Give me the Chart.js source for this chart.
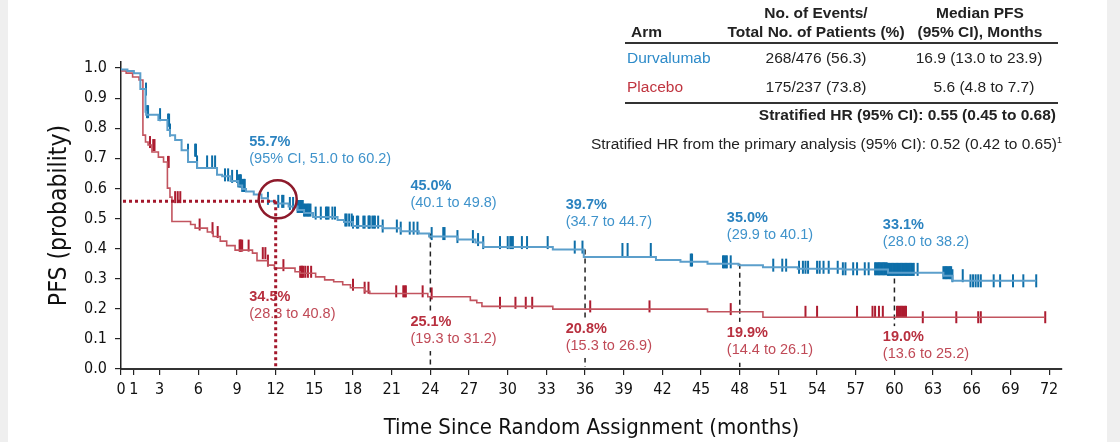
<!DOCTYPE html>
<html>
<head>
<meta charset="utf-8">
<script src="https://cdn.jsdelivr.net/npm/chart.js@4.4.1/dist/chart.umd.min.js"></script>
<style>
  body { margin: 0; width: 1120px; height: 442px; overflow: hidden; position: relative; background: #efefef; font-family: 'Liberation Sans', Arial, sans-serif; }
  #paper { position: absolute; left: 8px; top: 0; width: 1099px; height: 442px; background: #fff; }
  #c { position: absolute; left: 0; top: 0; }
  .t { position: absolute; font-size: 15.5px; line-height: 18px; color: #222; white-space: nowrap; }
  .b { font-weight: bold; }
  .mid { transform: translateX(-50%); }
  .rt { transform: translateX(-100%); }
  .rule { position: absolute; left: 625px; width: 433px; height: 2px; background: #333; }
  sup { font-size: 9px; }
</style>
</head>
<body>
<div id="paper"></div>
<canvas id="c" width="1120" height="442"></canvas>

<div class="t b" style="left:631px;top:23px">Arm</div>
<div class="t b mid" style="left:816px;top:4px">No. of Events/</div>
<div class="t b mid" style="left:816px;top:23px">Total No. of Patients (%)</div>
<div class="t b mid" style="left:980px;top:4px">Median PFS</div>
<div class="t b mid" style="left:980px;top:23px">(95% CI), Months</div>
<div class="rule" style="top:42px"></div>
<div class="t" style="left:627px;top:49px;color:#2e8bc9">Durvalumab</div>
<div class="t mid" style="left:816px;top:49px">268/476 (56.3)</div>
<div class="t mid" style="left:979px;top:49px">16.9 (13.0 to 23.9)</div>
<div class="t" style="left:627px;top:78px;color:#c0343f">Placebo</div>
<div class="t mid" style="left:816px;top:78px">175/237 (73.8)</div>
<div class="t mid" style="left:984px;top:78px">5.6 (4.8 to 7.7)</div>
<div class="rule" style="top:102px"></div>
<div class="t b rt" style="left:1056px;top:106px">Stratified HR (95% CI): 0.55 (0.45 to 0.68)</div>
<div class="t rt" style="left:1062px;top:131px">Stratified HR from the primary analysis (95% CI): 0.52 (0.42 to 0.65)<sup>1</sup></div>

<script>
// tick positions
const xTicks = [0, 1, 3, 6, 9, 12, 15, 18, 21, 24, 27, 30, 33, 36, 39, 42, 45, 48, 51, 54, 57, 60, 63, 66, 69, 72];
const yTicks = [0, 0.1, 0.2, 0.3, 0.4, 0.5, 0.6, 0.7, 0.8, 0.9, 1.0];

// Durvalumab KM steps (months, survival after the step)
const durvaTimes = [0, 0.5, 1.0, 1.5, 1.9, 1.95, 2.9, 3.6, 3.8, 4.2, 4.7, 5.2, 5.9, 7.45, 7.85, 8.5, 9.1, 9.4, 9.7, 10.3, 10.9, 11.4, 11.9, 13.0, 13.7, 14.2, 14.9, 16.8, 17.3, 18.0, 20.3, 21.7, 23.1, 23.9, 26.1, 27.5, 28.1, 33.5, 35.9, 41.5, 43.4, 45.5, 47.9, 49.8, 52.5, 56.0, 59.5, 63.8, 64.5, 65.7, 71.0];
const durvaSurv  = [1.0, 0.995, 0.99, 0.983, 0.93, 0.855, 0.845, 0.827, 0.794, 0.777, 0.761, 0.727, 0.688, 0.668, 0.645, 0.64, 0.625, 0.61, 0.598, 0.59, 0.58, 0.567, 0.557, 0.55, 0.54, 0.528, 0.518, 0.505, 0.495, 0.488, 0.475, 0.468, 0.458, 0.45, 0.44, 0.43, 0.42, 0.405, 0.397, 0.372, 0.362, 0.356, 0.35, 0.345, 0.338, 0.333, 0.331, 0.32, 0.31, 0.293, 0.293];
const durvaCensor = [1.94, 2.02, 2.1, 3.03, 3.65, 3.73, 3.8, 5.2, 5.75, 5.82, 5.9, 6.68, 7.07, 7.3, 8.07, 8.31, 8.62, 9.0, 9.1, 9.2, 9.25, 9.3, 9.4, 9.5, 9.55, 9.6, 11.4, 12.2, 12.5, 12.6, 13.1, 13.35, 13.7, 13.8, 13.9, 14.0, 14.05, 14.1, 14.2, 14.3, 14.4, 14.5, 14.6, 14.7, 15.1, 15.5, 15.9, 16.0, 16.1, 16.4, 16.6, 17.4, 17.5, 17.7, 17.9, 18.0, 18.3, 18.4, 18.8, 18.9, 19.2, 19.25, 19.3, 19.5, 19.6, 19.7, 19.95, 20.3, 21.4, 21.7, 22.4, 22.7, 23.0, 24.1, 25.0, 25.1, 26.1, 27.3, 27.7, 28.1, 29.4, 30.0, 30.2, 30.3, 30.4, 31.1, 31.5, 33.1, 35.2, 35.8, 38.9, 39.3, 41.1, 44.2, 44.3, 46.7, 46.8, 46.9, 47.0, 47.3, 50.6, 51.3, 51.6, 52.6, 52.9, 53.1, 53.3, 54.0, 54.2, 54.5, 54.9, 55.6, 56.0, 56.2, 56.8, 57.1, 57.7, 58.0, 58.5, 58.6, 58.7, 58.8, 58.9, 59.0, 59.1, 59.2, 59.3, 59.4, 59.5, 59.6, 59.7, 59.8, 59.9, 60.0, 60.1, 60.2, 60.3, 60.4, 60.5, 60.6, 60.7, 60.8, 60.9, 61.0, 61.1, 61.2, 61.3, 61.4, 61.5, 61.8, 63.8, 63.9, 64.0, 64.1, 64.2, 64.3, 64.4, 64.5, 65.3, 65.9, 66.1, 66.3, 66.5, 66.7, 67.7, 68.2, 69.2, 70.0, 71.0];

// Placebo KM steps
const placeboTimes = [0, 0.4, 0.9, 1.4, 1.7, 1.9, 2.1, 2.4, 2.9, 3.3, 3.6, 3.8, 3.95, 5.4, 5.75, 6.7, 7.15, 7.7, 8.2, 8.85, 10.2, 10.55, 11.4, 11.9, 13.5, 13.9, 15.1, 15.8, 16.5, 17.2, 17.8, 18.9, 19.3, 23.8, 27.1, 27.6, 28.0, 33.5, 45.5, 49.8, 61.0, 71.7];
const placeboSurv  = [1.0, 0.99, 0.983, 0.97, 0.96, 0.777, 0.754, 0.744, 0.721, 0.704, 0.688, 0.601, 0.571, 0.49, 0.48, 0.468, 0.455, 0.44, 0.425, 0.41, 0.395, 0.385, 0.36, 0.345, 0.335, 0.323, 0.318, 0.306, 0.296, 0.29, 0.28, 0.27, 0.258, 0.251, 0.24, 0.228, 0.22, 0.208, 0.199, 0.19, 0.172, 0.172];
const placeboCensor = [2.25, 2.5, 2.6, 3.65, 3.7, 4.2, 4.4, 4.6, 6.1, 7.1, 7.5, 9.2, 9.25, 9.3, 9.4, 9.9, 11.0, 11.2, 11.4, 12.6, 13.9, 14.0, 14.05, 14.15, 14.3, 14.5, 14.75, 18.0, 18.9, 19.2, 21.35, 21.9, 22.0, 22.1, 23.4, 24.1, 29.4, 30.6, 31.4, 31.9, 36.4, 41.0, 47.3, 53.1, 54.0, 57.1, 58.3, 58.5, 58.8, 59.1, 60.2, 60.3, 60.4, 60.5, 60.6, 60.7, 60.8, 60.9, 62.2, 64.8, 66.5, 66.7, 71.7];

// landmark estimates
const landmarks = [12, 24, 36, 48, 60];
const durvaPct = ['55.7%', '45.0%', '39.7%', '35.0%', '33.1%'];
const durvaCI = ['(95% CI, 51.0 to 60.2)', '(40.1 to 49.8)', '(34.7 to 44.7)', '(29.9 to 40.1)', '(28.0 to 38.2)'];
const placeboPct = ['34.5%', '25.1%', '20.8%', '19.9%', '19.0%'];
const placeboCI = ['(28.3 to 40.8)', '(19.3 to 31.2)', '(15.3 to 26.9)', '(14.4 to 26.1)', '(13.6 to 25.2)'];

// where the labels sit (x in months, y in probability)
const durvaLabelPos = [[9.95, 0.754], [22.45, 0.608], [34.5, 0.545], [47.0, 0.502], [59.1, 0.478]];
const placeboLabelPos = [[9.95, 0.239], [22.45, 0.156], [34.5, 0.133], [47.0, 0.12], [59.1, 0.106]];

const BLUE_LINE = '#5c9fcb', BLUE_MARK = '#0d6ea8', BLUE_TXT = '#2b83c0';
const RED_LINE = '#c2545f', RED_MARK = '#ad1c30', RED_TXT = '#b8303f';
const DARK_RED = '#8e1a2b';
const NARROW = "'Liberation Sans Narrow', 'DejaVu Sans Condensed', sans-serif";
const SANS = "'Liberation Sans', Arial, sans-serif";

const survAt = (times, surv, t) => {
  let s = surv[0];
  for (let i = 0; i < times.length; i++) {
    if (times[i] <= t) s = surv[i]; else break;
  }
  return s;
};

const stepPoints = (times, surv) => times.map((t, i) => ({ x: t, y: surv[i] }));
const censorPoints = (cens, times, surv) => cens.map(t => ({ x: t, y: survAt(times, surv, t) }));

const annotations = {
  id: 'annotations',
  beforeDatasetsDraw(chart) {
    const { ctx, scales: { x, y } } = chart;
    ctx.save();
    ctx.strokeStyle = '#222';
    ctx.lineWidth = 1.5;
    ctx.setLineDash([5, 4]);
    landmarks.slice(1).forEach(m => {
      const px = x.getPixelForValue(m);
      ctx.beginPath();
      ctx.moveTo(px, y.getPixelForValue(survAt(durvaTimes, durvaSurv, m)));
      ctx.lineTo(px, y.getPixelForValue(0) - 2);
      ctx.stroke();
    });
    ctx.restore();
  },
  afterDatasetsDraw(chart) {
    const { ctx, scales: { x, y } } = chart;
    ctx.save();
    ctx.textBaseline = 'middle';
    ctx.textAlign = 'left';
    const drawLabel = (pos, pct, ci, c1, c2, bg) => {
      const px = x.getPixelForValue(pos[0]);
      const py = y.getPixelForValue(pos[1]);
      ctx.font = `bold 14.5px ${SANS}`;
      const w1 = ctx.measureText(pct).width;
      ctx.font = `14.5px ${SANS}`;
      const w2 = ctx.measureText(ci).width;
      if (bg) {
        ctx.fillStyle = '#fff';
        ctx.fillRect(px - 2, py - 11, Math.max(w1, w2) + 4, 40);
      }
      ctx.font = `bold 14.5px ${SANS}`;
      ctx.fillStyle = c1;
      ctx.fillText(pct, px, py);
      ctx.font = `14.5px ${SANS}`;
      ctx.fillStyle = c2;
      ctx.fillText(ci, px, py + 17);
    };
    landmarks.forEach((m, i) => {
      drawLabel(durvaLabelPos[i], durvaPct[i], durvaCI[i], BLUE_TXT, '#3f93cb', false);
      drawLabel(placeboLabelPos[i], placeboPct[i], placeboCI[i], RED_TXT, '#c04a57', true);
    });

    // 12-month reference
    const m12 = x.getPixelForValue(12);
    const s12 = y.getPixelForValue(0.557);
    ctx.strokeStyle = '#a3172b';
    ctx.lineWidth = 3;
    ctx.setLineDash([3, 3]);
    ctx.beginPath();
    ctx.moveTo(x.getPixelForValue(0) + 2, s12);
    ctx.lineTo(m12, s12);
    ctx.moveTo(m12, s12);
    ctx.lineTo(m12, y.getPixelForValue(0));
    ctx.stroke();
    ctx.setLineDash([]);
    ctx.strokeStyle = DARK_RED;
    ctx.lineWidth = 2.5;
    ctx.beginPath();
    ctx.arc(m12 + 2, s12 - 2, 19, 0, Math.PI * 2);
    ctx.stroke();
    ctx.restore();
  }
};

new Chart(document.getElementById('c'), {
  type: 'line',
  data: {
    datasets: [
      {
        label: 'Durvalumab',
        data: stepPoints(durvaTimes, durvaSurv),
        stepped: 'after',
        borderColor: BLUE_LINE,
        borderWidth: 2,
        pointRadius: 0,
        fill: false
      },
      {
        label: 'Placebo',
        data: stepPoints(placeboTimes, placeboSurv),
        stepped: 'after',
        borderColor: RED_LINE,
        borderWidth: 1.6,
        pointRadius: 0,
        fill: false
      },
      {
        label: 'Durvalumab censored',
        data: censorPoints(durvaCensor, durvaTimes, durvaSurv),
        showLine: false,
        pointStyle: 'line',
        rotation: 90,
        pointRadius: 6.5,
        pointBorderWidth: 2,
        pointBorderColor: BLUE_MARK
      },
      {
        label: 'Placebo censored',
        data: censorPoints(placeboCensor, placeboTimes, placeboSurv),
        showLine: false,
        pointStyle: 'line',
        rotation: 90,
        pointRadius: 6,
        pointBorderWidth: 2,
        pointBorderColor: RED_MARK
      }
    ]
  },
  options: {
    responsive: false,
    animation: false,
    events: [],
    layout: { padding: { top: 62, right: 58, left: 0, bottom: 0 } },
    plugins: { legend: { display: false }, tooltip: { enabled: false } },
    scales: {
      x: {
        type: 'linear',
        min: 0,
        max: 73,
        afterBuildTicks: scale => { scale.ticks = xTicks.map(v => ({ value: v })); },
        afterFit: scale => { scale.height = 73; },
        ticks: {
          autoSkip: false,
          maxRotation: 0,
          padding: 5,
          color: '#111',
          font: { family: NARROW, size: 16 },
          callback: v => String(v)
        },
        grid: { drawOnChartArea: false, drawTicks: true, tickLength: 6, color: '#222', lineWidth: 1.2 },
        border: { color: '#333', width: 2 },
        title: {
          display: true,
          text: 'Time Since Random Assignment (months)',
          color: '#111',
          font: { family: NARROW, size: 22 },
          padding: { top: 0, bottom: 1 }
        }
      },
      y: {
        type: 'linear',
        min: 0,
        max: 1.02,
        afterBuildTicks: scale => { scale.ticks = yTicks.map(v => ({ value: v })); },
        afterFit: scale => { scale.width = 121; },
        ticks: {
          padding: 8,
          color: '#111',
          font: { family: NARROW, size: 16 },
          callback: v => v.toFixed(1)
        },
        grid: { drawOnChartArea: false, drawTicks: true, tickLength: 6, color: '#222', lineWidth: 1.2 },
        border: { color: '#222', width: 1.5 },
        title: {
          display: true,
          text: 'PFS (probability)',
          color: '#111',
          font: { family: NARROW, size: 24.5 },
          padding: { top: 45, bottom: 0 }
        }
      }
    }
  },
  plugins: [annotations]
});
</script>
</body>
</html>
